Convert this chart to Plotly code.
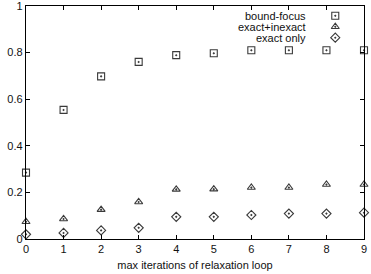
import plotly.graph_objects as go

iterations = [0, 1, 2, 3, 4, 5, 6, 7, 8, 9]
bound_focus = [0.285, 0.554, 0.698, 0.760, 0.789, 0.797, 0.810, 0.810, 0.810, 0.810]
exact_inexact = [0.074, 0.086, 0.126, 0.159, 0.213, 0.214, 0.221, 0.221, 0.234, 0.234]
exact_only = [0.020, 0.026, 0.037, 0.048, 0.095, 0.095, 0.103, 0.109, 0.109, 0.113]
series_names = ["bound-focus", "exact+inexact", "exact only"]
symbols = ["square-open-dot", "triangle-up-open-dot", "diamond-open-dot"]
x_ticks = [0, 1, 2, 3, 4, 5, 6, 7, 8, 9]
y_ticks = [0, 0.2, 0.4, 0.6, 0.8, 1]
y_labels = ["0", "0.2", "0.4", "0.6", "0.8", "1"]

color = "#3a3a3a"
font = "Liberation Sans, Arial, sans-serif"

fig = go.Figure()
for name, vals, sym in zip(series_names, [bound_focus, exact_inexact, exact_only], symbols):
    fig.add_trace(go.Scatter(
        x=iterations, y=vals, mode="markers", name=name, showlegend=False,
        marker=dict(symbol=sym, size=7, color=color, line=dict(width=1.1, color=color)),
        cliponaxis=False,
    ))

# custom legend (text right-aligned, symbol on the right) on overlay axes
legend_y = [0.958, 0.911, 0.864]
for name, sym, ly in zip(series_names, symbols, legend_y):
    fig.add_trace(go.Scatter(
        x=[0.915], y=[ly], xaxis="x2", yaxis="y2", mode="markers", showlegend=False,
        marker=dict(symbol=sym, size=7, color=color, line=dict(width=1.1, color=color)),
        hoverinfo="skip",
    ))
    fig.add_annotation(
        x=0.835, y=ly, xref="x2", yref="y2", text=name, showarrow=False,
        xanchor="right", yanchor="middle", font=dict(family=font, size=11, color="#111"),
    )

axis_common = dict(
    showgrid=False, zeroline=False, showline=True, linecolor="#000", linewidth=1.3,
    mirror="ticks", ticks="inside", ticklen=4, tickcolor="#000", tickwidth=1,
    tickfont=dict(family=font, size=11, color="#111"), ticklabeloverflow="allow",
)

fig.update_layout(
    width=371, height=274,
    margin=dict(l=26, r=7, t=6, b=35, autoexpand=False),
    paper_bgcolor="white", plot_bgcolor="white",
    xaxis=dict(range=[0, 9], tickvals=x_ticks, ticktext=[str(v) for v in x_ticks],
               automargin=False,
               title=dict(text="max iterations of relaxation loop", standoff=6,
                          font=dict(family=font, size=11, color="#111")),
               **axis_common),
    yaxis=dict(range=[0, 1], tickmode="array", tickvals=y_ticks, ticktext=y_labels,
               automargin=False, **axis_common),
    xaxis2=dict(range=[0, 1], overlaying="x", visible=False),
    yaxis2=dict(range=[0, 1], overlaying="y", visible=False),
    showlegend=False,
)

fig.write_html("out.html")
